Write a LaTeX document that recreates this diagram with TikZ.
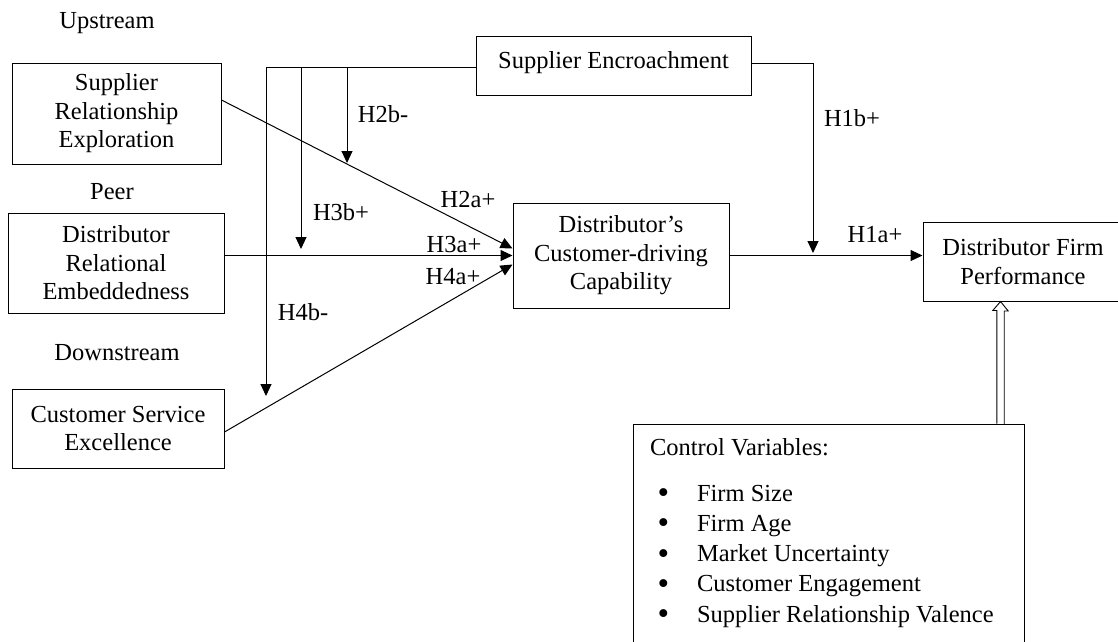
\documentclass[tikz,border=0pt]{standalone}
\usepackage{fontspec}
\setmainfont{Liberation Serif}
\usetikzlibrary{arrows.meta,positioning,calc}

\newcommand{\ctrlitem}{\makebox[47pt][l]{\hspace{7.5pt}\smash{\raisebox{-2.5pt}{\scalebox{1.35}{\textbullet}}}}}

\tikzset{
  box/.style={draw, line width=1pt, align=center, inner sep=0pt},
  hyp/.style={inner sep=0pt},
}

\begin{document}
\begin{tikzpicture}[x=1pt, y=-1pt, line width=1pt,
    >={Triangle[length=12pt,width=11pt]},
    every node/.style={font=\fontsize{24.5}{28.5}\selectfont}]
  \useasboundingbox (0,0) rectangle (1118,641);
  % \draw[step=50,gray,very thin] (0,0) grid (1118,641);

  % the three tiers
  \node (upstream) at (107,23) {Upstream};
  \node (peer) at (112,192) {Peer};
  \node (downstream) at (117,353) {Downstream};

  \node[box, minimum width=209pt, minimum height=101pt] (sre) at (116.5,113.5) {Supplier\\Relationship\\Exploration};
  \node[box, minimum width=216pt, minimum height=100pt] (dre) at (116,263) {Distributor\\Relational\\Embeddedness};
  \node[box, minimum width=212pt, minimum height=79pt] (cse) at (118,428.5) {Customer Service\\Excellence};

  \node[box, minimum width=275pt, minimum height=59pt, text depth=12pt] (se) at (613.5,65.5) {Supplier Encroachment};
  \node[box, minimum width=216pt, minimum height=105pt] (dcc) at (621,255.5) {Distributor’s\\Customer-driving\\Capability};
  \node[box, minimum width=200pt, minimum height=79pt] (dfp) at (1023,261.5) {Distributor Firm\\Performance};

  % controls (box runs off the page)
  \node[box, minimum width=391pt, minimum height=240pt] (ctrl) at (828.5,544) {};
  \node[anchor=north west, align=left, inner sep=0pt] (ctrltxt) at ([xshift=17pt,yshift=-14pt]ctrl.north west)
    {Control Variables:\\[17.5pt]
     \ctrlitem Firm Size\\[1.8pt]
     \ctrlitem Firm Age\\[1.8pt]
     \ctrlitem Market Uncertainty\\[1.8pt]
     \ctrlitem Customer Engagement\\[1.8pt]
     \ctrlitem Supplier Relationship Valence};

  % main effects
  \draw[->] ([yshift=13.5pt]sre.east) -- ([yshift=7pt]dcc.west);
  \draw[->] (dre.east |- dcc.west) -- (dcc.west);
  \draw[->] ([yshift=-3.5pt]cse.east) -- ([yshift=-9pt]dcc.west);
  \draw[->] (dcc.east) -- (dcc.east -| dfp.west);

  % moderation by encroachment
  \coordinate (sel) at ([yshift=-1.5pt]se.west);
  \coordinate (m4) at (266,396);
  \coordinate (m3) at (301,249);
  \coordinate (m2) at (347,163);
  \coordinate (m1) at (813,253);
  \draw[->] (sel) -| (m4);
  \draw[->] (sel -| m3) -- (m3);
  \draw[->] (sel -| m2) -- (m2);
  \draw[->] ([yshift=2.5pt]se.east) -| (m1);

  % control arrow
  \coordinate (ctrlup) at (1000.5,0);
  \draw[line width=0.9pt] ($(ctrlup |- ctrl.north)+(-3.7,0)$) -- ++(0,-113) -- ++(-4,0)
    -- (ctrlup |- dfp.south) -- ++(7.7,9.5) -- ++(-4,0) -- ++(0,113);

  % hypotheses
  \node[hyp] (h2bl) at (383,114) {H2b-};
  \node[hyp] (h3bl) at (341,212) {H3b+};
  \node[hyp] (h4bl) at (303,312) {H4b-};
  \node[hyp] (h2al) at (468,200) {H2a+};
  \node[hyp] (h3al) at (454,244) {H3a+};
  \node[hyp] (h4al) at (453,277) {H4a+};
  \node[hyp] (h1bl) at (852,118) {H1b+};
  \node[hyp] (h1al) at (875,235) {H1a+};
\end{tikzpicture}
\end{document}
